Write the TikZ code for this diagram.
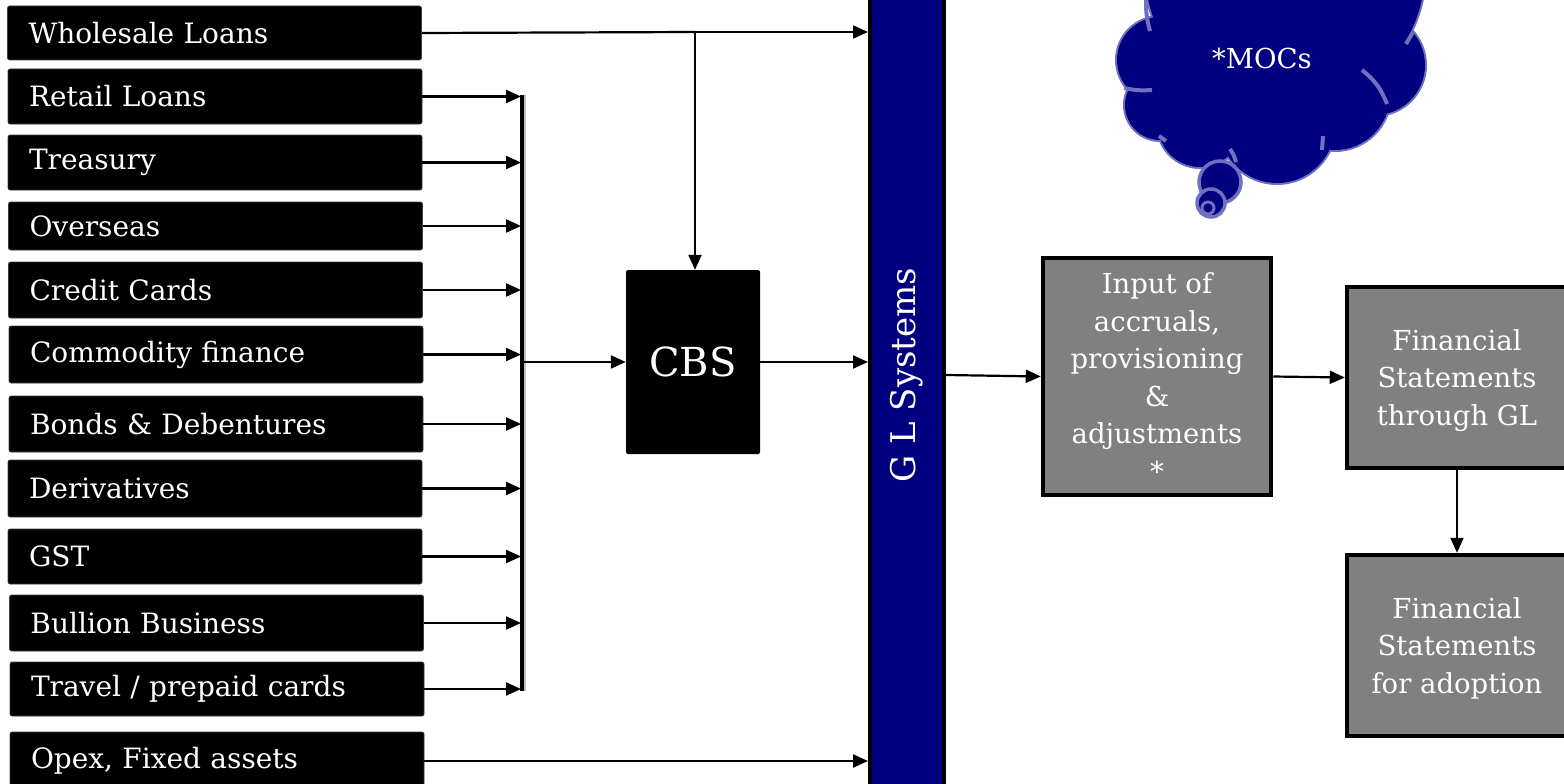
\documentclass[tikz,border=0pt]{standalone}
\usepackage{fontspec}
\setmainfont{DejaVu Serif}
\usetikzlibrary{arrows.meta}
\definecolor{navyb}{RGB}{0,0,128}
\definecolor{grayb}{RGB}{128,128,128}
\definecolor{lav}{RGB}{112,112,192}
\begin{document}
\begin{tikzpicture}[x=1pt,y=-1pt,
  lbox/.style={fill=black, draw=black!75, line width=0.6, rounded corners=2, text=white,
    font=\fontsize{28}{30}\selectfont, inner xsep=21, inner ysep=0, text width=372, align=left},
  gbox/.style={fill=grayb, draw=black, line width=4.5, text=white,
    font=\fontsize{27.5}{37.5}\selectfont, align=center, inner sep=0},
  conn/.style={line width=2.2, -{Triangle[length=15,width=13]}},
  plain/.style={line width=2.2}]
\useasboundingbox (0,0) rectangle (1564,784);
\clip (0,0) rectangle (1564,784);
% left boxes
\node[lbox, minimum height=54] (wl) at (214.5,33) {Wholesale Loans};
\node[lbox, minimum height=55] (rl) at (215,96.5) {Retail Loans};
\node[lbox, minimum height=55] (tr) at (215,162.5) {Treasury};
\node[lbox, minimum height=48] (ov) at (215.5,226) {Overseas};
\node[lbox, minimum height=56] (cc) at (215.5,290) {Credit Cards};
\node[lbox, minimum height=57] (cf) at (216,354.5) {Commodity finance};
\node[lbox, minimum height=56] (bd) at (216,424) {Bonds \& Debentures};
\node[lbox, minimum height=57] (de) at (215,488.5) {Derivatives};
\node[lbox, minimum height=55] (gst) at (215,556.5) {GST};
\node[lbox, minimum height=56] (bb) at (216.5,623) {Bullion Business};
\node[lbox, minimum height=54] (tp) at (217,689) {Travel / prepaid cards};
\node[lbox, minimum height=58] (op) at (217,761) {Opex, Fixed assets};
% bus
\coordinate (bustop) at (522,95);
\coordinate (busbot) at (522,691);
\draw[line width=3.5, black!25] ([xshift=2.5]bustop) -- ([xshift=2.5]busbot);
\draw[line width=3.5] (bustop) -- (busbot);
\foreach \n in {rl,tr,ov,cc,cf,bd,de,gst,bb,tp}{
  \draw[conn] (\n.east) -- (\n.east -| 521,0);
}
% CBS
\node[fill=black, rounded corners=2, minimum width=134, minimum height=184, text=white,
  font=\fontsize{40}{44}\selectfont, inner sep=0] (cbs) at (693,362) {CBS};
\coordinate (busout) at (523,362);
\draw[conn] (busout) -- (cbs.west);
% GL bar
\node[fill=navyb, draw=black, line width=4, minimum width=74, minimum height=820, inner sep=0] (gl) at (907,392) {};
\node[rotate=90, text=white, font=\fontsize{34}{36}\selectfont] (gltext) at (907,375) {G L Systems};
% wholesale
\coordinate (wlj) at (695,32);
\draw[plain] (wl.east) -- (wlj);
\draw[conn] (wlj) -- (wlj -| gl.west);
\draw[conn] (wlj) -- (cbs.north -| wlj);
% CBS to GL
\draw[conn] (cbs.east) -- (cbs.east -| gl.west);
% Opex
\draw[conn] (op.east) -- (op.east -| gl.west);
% gray boxes
\node[gbox, minimum width=228, minimum height=237] (inp) at (1157,376.5) {};
\node[text=white, font=\fontsize{27.5}{37.5}\selectfont, align=center] (inptext) at (1157,377)
  {Input of\\accruals,\\provisioning\\\&\\adjustments\\*};
\node[gbox, minimum width=220, minimum height=181] (fsgl) at (1457,377.5)
  {\strut Financial\\Statements\\through GL};
\node[gbox, minimum width=220, minimum height=181] (fsad) at (1457,645.5)
  {\strut Financial\\Statements\\for adoption};
\draw[conn] (gl.east |- 0,375) -- (inp.west);
\draw[conn] (inp.east) -- (fsgl.west);
\draw[conn] (fsgl.south) -- (fsad.north);
% cloud
\begin{scope}
  \def\lobes{
    (1285,-30) circle (140)
    (1160,60) circle (43)
    (1160,105) circle (35)
    (1200,125) circle (42)
    (1277,125) circle (58)
    (1335,95) circle (55)
    (1375,65) circle (50)}
  \draw[lav, line width=4] \lobes;
  \fill[navyb] \lobes;
  \fill[navyb] (1265,70) circle (88);
  % inner arc strokes of the cloud
  \draw[lav, line width=4] (1146,0) to[bend right=8] (1150,31);
  \draw[lav, line width=4] (1124,88) to[bend right=8] (1152,90);
  \draw[lav, line width=4] (1159,136) to (1166,141);
  \draw[lav, line width=4] (1230,149) to[bend left=10] (1236,162);
  \draw[lav, line width=4] (1323,136) to (1322,150);
  \draw[lav, line width=4] (1362,70) to[bend left=15] (1387,104);
  \draw[lav, line width=4] (1406,44) to (1413,32);
  \draw[lav, line width=3.5, fill=navyb] (1220,182) circle (21);
  \draw[lav, line width=3.5, fill=navyb] (1211,203) circle (14);
  \draw[lav, line width=3] (1208,208) circle (6);
  \node[text=white, font=\fontsize{27.5}{30}\selectfont] (moc) at (1262,58) {*MOCs};
\end{scope}
\end{tikzpicture}
\end{document}
